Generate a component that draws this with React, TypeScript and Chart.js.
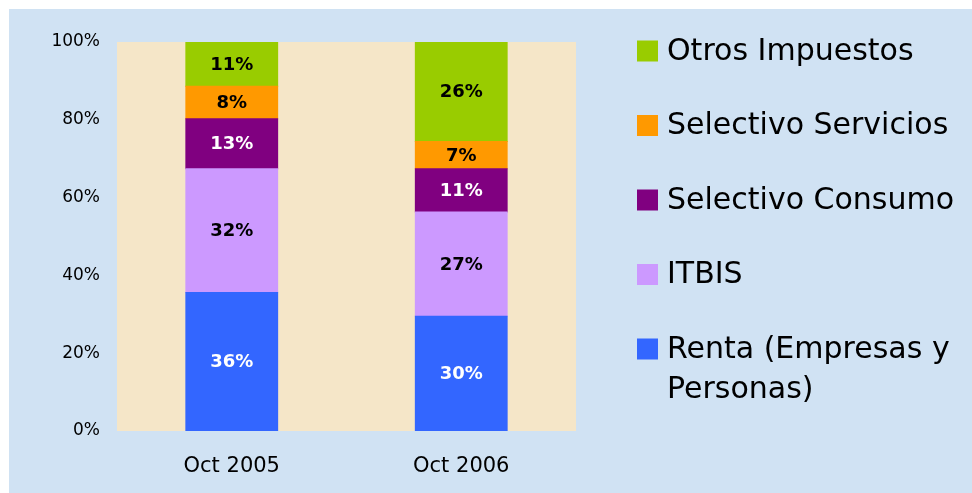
import React, { useEffect, useRef } from "react";
import { Chart, registerables } from "chart.js";

Chart.register(...registerables);

// ---- Data ----
const categories = ["Oct 2005", "Oct 2006"];
const renta = [35.6, 29.5];
const itbis = [31.8, 26.8];
const selectivoConsumo = [12.9, 11.1];
const selectivoServicios = [8.3, 7.0];
const otrosImpuestos = [11.4, 25.6];
const yTicks = [0, 20, 40, 60, 80, 100];
const seriesNames = [
  "Renta (Empresas y Personas)",
  "ITBIS",
  "Selectivo Consumo",
  "Selectivo Servicios",
  "Otros Impuestos",
];

// ---- Styles ----
const seriesColors = ["#3366FF", "#CC99FF", "#800080", "#FF9900", "#99CC00"];
const labelColors = ["#FFFFFF", "#000000", "#FFFFFF", "#000000", "#000000"];
const FONT = "'DejaVu Sans', Verdana, sans-serif";
const BG = "#D0E2F3";
const PLOT_BG = "#F5E6C8";

const W = 963;
const H = 484;

const plotBgPlugin = {
  id: "plotBg",
  beforeDraw(chart: any) {
    const { ctx, chartArea } = chart;
    ctx.save();
    ctx.fillStyle = BG;
    ctx.fillRect(0, 0, chart.width, chart.height);
    ctx.fillStyle = PLOT_BG;
    ctx.fillRect(chartArea.left, chartArea.top, chartArea.right - chartArea.left, chartArea.bottom - chartArea.top);
    ctx.restore();
  },
};

const dataLabelPlugin = {
  id: "dataLabels",
  afterDatasetsDraw(chart: any) {
    const ctx = chart.ctx;
    ctx.save();
    ctx.font = `bold 18px ${FONT}`;
    ctx.textAlign = "center";
    ctx.textBaseline = "middle";
    chart.data.datasets.forEach((ds: any, i: number) => {
      const meta = chart.getDatasetMeta(i);
      meta.data.forEach((el: any, j: number) => {
        const { x, y, base } = el.getProps(["x", "y", "base"], true);
        ctx.fillStyle = labelColors[i];
        ctx.fillText(Math.round(ds.data[j]) + "%", x, (y + base) / 2 + 1);
      });
    });
    ctx.restore();
  },
};

function wrapText(ctx: CanvasRenderingContext2D, text: string, maxWidth: number): string[] {
  const words = text.split(" ");
  const lines: string[] = [];
  let cur = "";
  for (const w of words) {
    const test = cur ? cur + " " + w : w;
    if (ctx.measureText(test).width > maxWidth && cur) {
      lines.push(cur);
      cur = w;
    } else {
      cur = test;
    }
  }
  if (cur) lines.push(cur);
  return lines;
}

const legendPlugin = {
  id: "customLegend",
  afterDraw(chart: any) {
    const { ctx, chartArea } = chart;
    const boxX = chartArea.right + 61;
    const box = 21;
    const textX = boxX + box + 9;
    const startY = chartArea.top + 9;
    const step = 74.5;
    const lineH = 40;
    ctx.save();
    ctx.font = `30px ${FONT}`;
    ctx.textAlign = "left";
    ctx.textBaseline = "middle";
    const n = chart.data.datasets.length;
    for (let k = 0; k < n; k++) {
      const i = n - 1 - k;
      const ds = chart.data.datasets[i];
      const cy = startY + k * step;
      ctx.fillStyle = ds.backgroundColor;
      ctx.fillRect(boxX, cy - box / 2, box, box);
      ctx.fillStyle = "#000";
      const lines = wrapText(ctx, ds.label, chart.width - textX - 4);
      lines.forEach((ln, li) => ctx.fillText(ln, textX, cy + 1 + li * lineH));
    }
    ctx.restore();
  },
};

export default function App() {
  const ref = useRef<HTMLCanvasElement | null>(null);

  useEffect(() => {
    if (!ref.current) return;
    const series = [renta, itbis, selectivoConsumo, selectivoServicios, otrosImpuestos];
    const chart = new Chart(ref.current, {
      type: "bar",
      data: {
        labels: categories,
        datasets: series.map((d, i) => ({
          label: seriesNames[i],
          data: d,
          backgroundColor: seriesColors[i],
          borderWidth: 0,
          inflateAmount: 0.5,
          barPercentage: 0.4,
          categoryPercentage: 1,
        })),
      },
      options: {
        responsive: false,
        animation: false,
        layout: { padding: { top: 33, left: 0, right: 396, bottom: 0 } },
        plugins: {
          legend: { display: false },
          tooltip: { enabled: false },
          title: { display: false },
        },
        scales: {
          x: {
            stacked: true,
            grid: { display: false, drawTicks: false },
            border: { display: false },
            ticks: { color: "#000", font: { family: FONT, size: 21 }, padding: 23 },
            afterFit: (axis: any) => {
              axis.height = 62;
            },
          },
          y: {
            stacked: true,
            min: 0,
            max: 100,
            grid: { display: false, drawTicks: false },
            border: { display: false },
            afterBuildTicks: (axis: any) => {
              axis.ticks = yTicks.map((v) => ({ value: v }));
            },
            ticks: {
              color: "#000",
              font: { family: FONT, size: 17 },
              padding: 17,
              callback: (v: any) => v + "%",
            },
            afterFit: (axis: any) => {
              axis.width = 108;
            },
          },
        },
      },
      plugins: [plotBgPlugin, dataLabelPlugin, legendPlugin],
    });
    return () => chart.destroy();
  }, []);

  return (
    <div style={{ position: "fixed", left: 9, top: 9, width: W, height: H }}>
      <canvas ref={ref} width={W} height={H} style={{ display: "block", width: W, height: H }} />
    </div>
  );
}
